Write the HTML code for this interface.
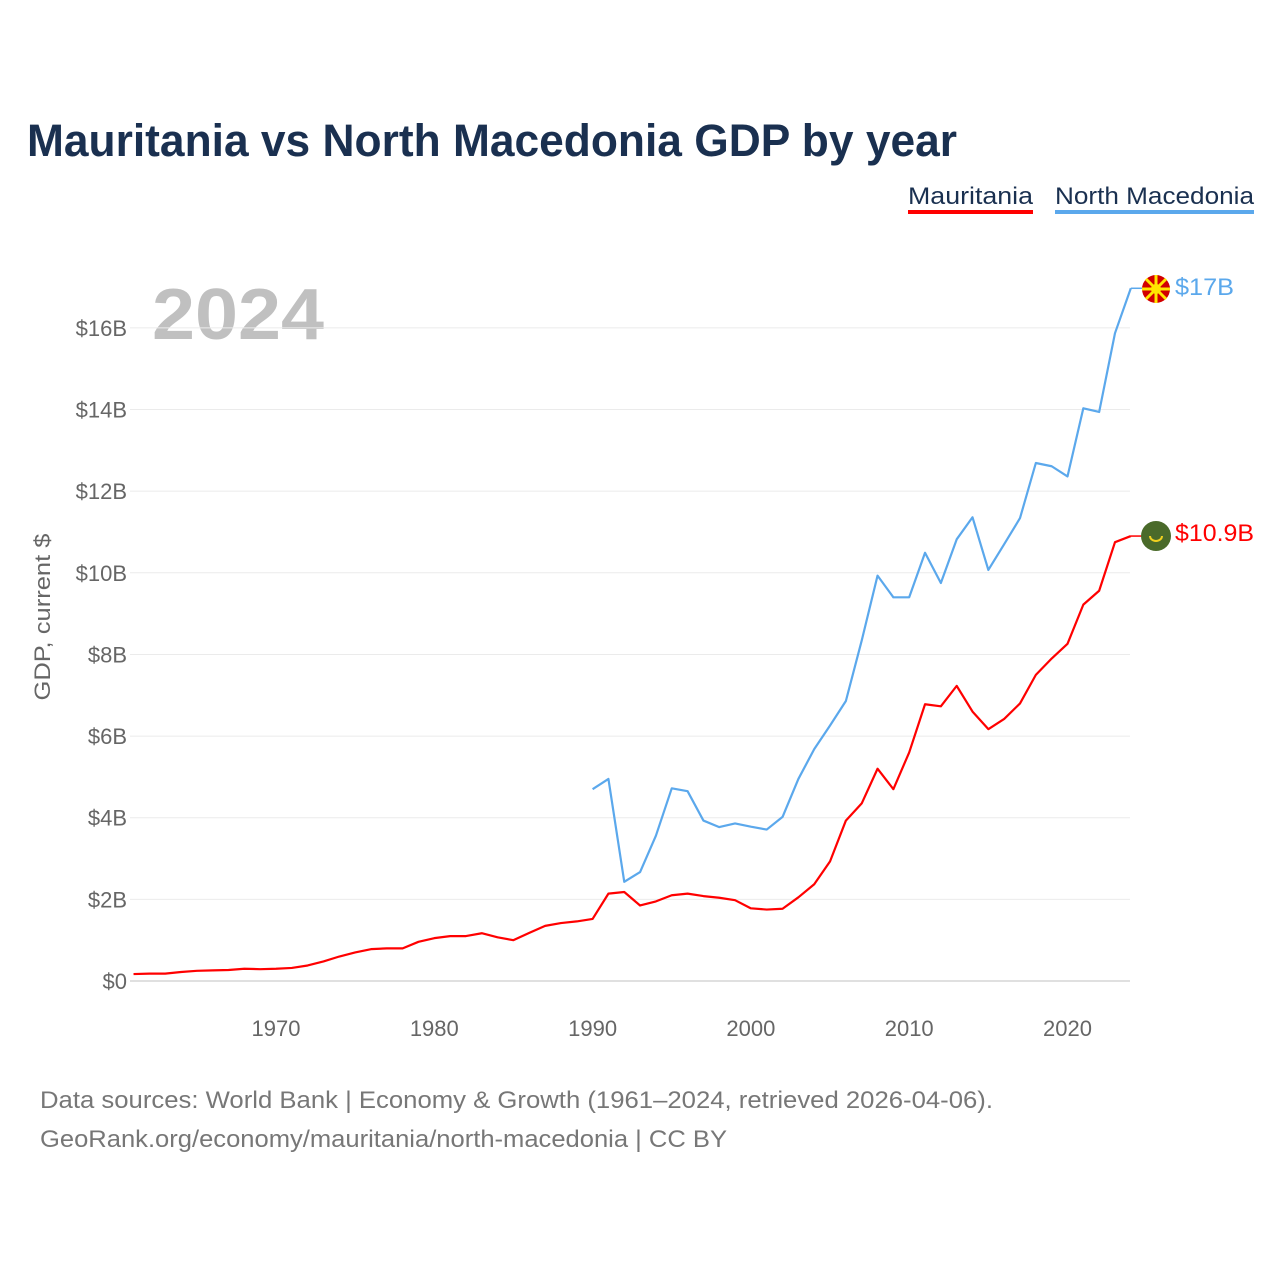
<!DOCTYPE html>
<html><head><meta charset="utf-8"><style>
body{margin:0;background:#fff;font-family:"Liberation Sans",sans-serif;}
</style></head><body>
<svg id="c" width="1280" height="1280" xmlns="http://www.w3.org/2000/svg">
<text x="27" y="156" font-size="45" font-weight="bold" fill="#1a3050" textLength="930" lengthAdjust="spacingAndGlyphs">Mauritania vs North Macedonia GDP by year</text>
<g>
<text x="908" y="204" font-size="24" fill="#1a3050" textLength="125" lengthAdjust="spacingAndGlyphs">Mauritania</text>
<rect x="908" y="210" width="125" height="4" fill="#ff0000"/>
<text x="1055" y="204" font-size="24" fill="#1a3050" textLength="199" lengthAdjust="spacingAndGlyphs">North Macedonia</text>
<rect x="1055" y="210" width="199" height="4" fill="#5ba8ec"/>
</g>
<text x="152" y="339" font-size="72" font-weight="bold" fill="#c0c0c0" textLength="172" lengthAdjust="spacingAndGlyphs">2024</text>
<text transform="translate(50,617) rotate(-90)" text-anchor="middle" font-size="22" fill="#666" textLength="167" lengthAdjust="spacingAndGlyphs">GDP, current $</text>
<g id="grid"></g><g id="xt"></g><g id="lines"></g>
<g>
<circle cx="1156" cy="289" r="14" fill="#d20000"/>
<circle cx="1156" cy="289" r="5" fill="#ffe600"/>
<g stroke="#ffe600" stroke-width="3"><line x1="1142" y1="289" x2="1170" y2="289"/><line x1="1156" y1="275" x2="1156" y2="303"/><line x1="1146" y1="279" x2="1166" y2="299"/><line x1="1166" y1="279" x2="1146" y2="299"/></g>
<text x="1175" y="295" font-size="24" fill="#5ba8ec" textLength="59" lengthAdjust="spacingAndGlyphs">$17B</text>
<circle cx="1156" cy="536" r="15" fill="#4a6a2a"/>
<path d="M1150 536 a6 5 0 0 0 12 0" stroke="#f0d020" stroke-width="2" fill="none"/>
<text x="1175" y="541" font-size="24" fill="#ff0000" textLength="79" lengthAdjust="spacingAndGlyphs">$10.9B</text>
</g>
<text x="40" y="1108" font-size="24" fill="#777" textLength="953" lengthAdjust="spacingAndGlyphs">Data sources: World Bank | Economy &amp; Growth (1961–2024, retrieved 2026-04-06).</text>
<text x="40" y="1147" font-size="24" fill="#777" textLength="687" lengthAdjust="spacingAndGlyphs">GeoRank.org/economy/mauritania/north-macedonia | CC BY</text>
</svg>
<script>
const mauYears = []; for (let y = 1961; y <= 2024; y++) mauYears.push(y);
const mauValues = [0.17,0.18,0.18,0.22,0.25,0.26,0.27,0.3,0.29,0.3,0.32,0.38,0.48,0.6,0.7,0.78,0.8,0.8,0.96,1.05,1.1,1.1,1.17,1.07,1.0,1.18,1.35,1.42,1.46,1.52,2.14,2.18,1.85,1.95,2.1,2.14,2.08,2.04,1.98,1.78,1.75,1.77,2.05,2.37,2.93,3.93,4.35,5.2,4.7,5.6,6.78,6.73,7.23,6.6,6.17,6.42,6.8,7.5,7.9,8.26,9.22,9.56,10.75,10.9];
const mkdYears = []; for (let y = 1990; y <= 2024; y++) mkdYears.push(y);
const mkdValues = [4.7,4.95,2.43,2.67,3.56,4.72,4.65,3.93,3.77,3.86,3.78,3.71,4.02,4.95,5.68,6.26,6.86,8.34,9.93,9.4,9.4,10.49,9.75,10.82,11.36,10.07,10.7,11.34,12.69,12.61,12.36,14.03,13.94,15.87,16.97];
const yTicks = [0,2,4,6,8,10,12,14,16];
const yTickLabels = ["$0","$2B","$4B","$6B","$8B","$10B","$12B","$14B","$16B"];
const xTicks = [1970,1980,1990,2000,2010,2020];
const NS = "http://www.w3.org/2000/svg";
const xs = y => 276 + (y - 1970) * 15.83;
const ys = v => 981 - v * 40.82;
function mk(tag, attrs, parent) { const e = document.createElementNS(NS, tag); for (const k in attrs) e.setAttribute(k, attrs[k]); document.getElementById(parent).appendChild(e); return e; }
yTicks.forEach((t, i) => {
  const l = mk("line", {x1: 130, x2: 1130, y1: ys(t), y2: ys(t), stroke: t === 0 ? "#e0e0e0" : "#ebebeb", "stroke-width": t === 0 ? 2 : 1}, "grid");
  
  
  const tx = mk("text", {x: 127, y: ys(t) + 8, "text-anchor": "end", "font-size": 22, fill: "#666"}, "grid");
  tx.textContent = yTickLabels[i];
  
  
});
xTicks.forEach(t => {
  const tx = mk("text", {x: xs(t), y: 1036, "text-anchor": "middle", "font-size": 22, fill: "#666"}, "xt");
  tx.textContent = t;
  
  
});
function line(years, vals, color, name) {
  const p = mk("polyline", {points: years.map((y, i) => xs(y) + "," + ys(vals[i])).join(" "), fill: "none", stroke: color, "stroke-width": 2.2, "stroke-linejoin": "round"}, "lines");
  
  
  const last = years.length - 1;
  const c = mk("line", {x1: xs(years[last]), y1: ys(vals[last]), x2: 1142, y2: ys(vals[last]), stroke: color, "stroke-width": 1.5}, "lines");
  
  
}
line(mauYears, mauValues, "#ff0000", "mauritania-line");
line(mkdYears, mkdValues, "#5ba8ec", "north-macedonia-line");
</script>
</body></html>
